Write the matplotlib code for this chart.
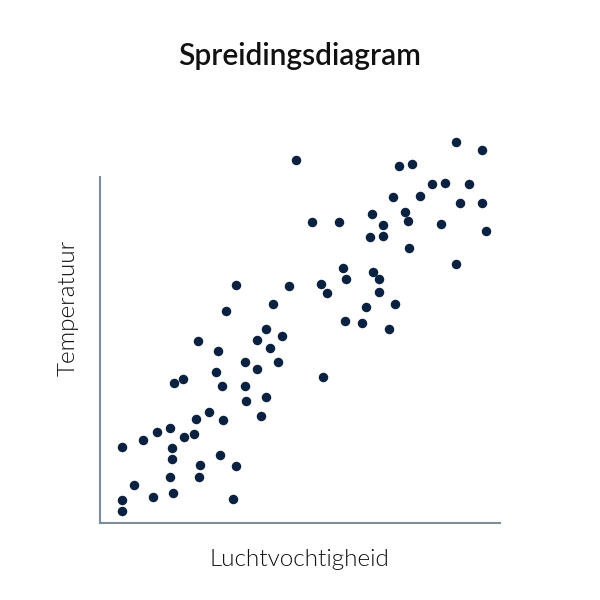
import matplotlib
matplotlib.use("Agg")
from matplotlib import pyplot as plt

# luchtvochtigheid (%) en temperatuur (schaal 0-100 op de as)
vocht = [49.0, 34.0, 47.25, 43.25, 31.5, 41.5, 89.0, 95.5, 74.75, 78.0,
         83.0, 86.25, 92.25, 73.25, 80.0, 90.0, 95.5, 68.0, 76.25, 70.75,
         77.0, 85.25, 96.5, 53.0, 59.75, 67.5, 70.75, 77.25, 89.0, 60.75,
         68.25, 61.5, 69.75, 55.25, 56.75, 69.75, 66.5, 73.75, 61.25, 65.5,
         72.25, 55.75, 39.25, 45.5, 24.5, 29.5, 42.5, 36.25, 39.25, 44.5,
         29.0, 18.5, 20.75, 30.5, 36.25, 36.5, 41.5, 40.25, 27.25, 24.0,
         30.75, 17.5, 14.25, 10.75, 21.0, 23.5, 5.5, 18.0, 18.0, 30.0,
         25.0, 34.0, 17.5, 24.75, 8.5, 13.25, 18.25, 5.5, 33.25, 5.5]
temp = [104.9, 68.8, 68.5, 63.3, 61.3, 56.1, 110.1, 107.8, 103.2, 103.8,
        98.0, 98.3, 98.0, 94.2, 94.5, 92.5, 92.5, 89.3, 89.9, 86.1,
        87.3, 86.4, 84.4, 87.0, 87.0, 82.7, 82.9, 79.5, 74.9, 73.7,
        72.5, 70.5, 70.5, 69.1, 66.5, 66.8, 62.4, 63.3, 58.4, 57.8,
        56.1, 42.2, 52.9, 54.0, 52.6, 49.7, 50.6, 46.5, 44.5, 46.5,
        43.6, 40.5, 41.6, 39.6, 39.6, 35.3, 36.4, 30.9, 32.1, 30.1,
        29.8, 27.5, 26.3, 24.0, 24.9, 25.7, 22.0, 21.7, 18.5, 19.7,
        16.8, 16.5, 13.3, 13.3, 11.0, 7.5, 8.7, 6.6, 6.9, 3.5]

plt.rcParams['font.family'] = ['Lato', 'DejaVu Sans']

fig = plt.figure(figsize=(6, 6), dpi=100)
ax = fig.add_axes([100 / 600, 77 / 600, 400 / 600, 346 / 600])
ax.scatter(vocht, temp, s=34, color='#0a2240', clip_on=False, zorder=3)
ax.set_xlim(0, 100)
ax.set_ylim(0, 100)

for side in ['top', 'right']:
    ax.spines[side].set_visible(False)
for side in ['left', 'bottom']:
    ax.spines[side].set_color('#7d8c99')
    ax.spines[side].set_linewidth(1.5)
ax.set_xticks([])
ax.set_yticks([])

fig.text(299 / 600, 1 - 560 / 600, "Luchtvochtigheid", ha='center', va='center',
         fontsize=17.5, fontweight=300, color='#111111')
fig.text(68 / 600, 1 - 308 / 600, "Temperatuur", ha='center', va='center',
         rotation=90, fontsize=17.5, fontweight=300, color='#111111')
fig.text(0.5, 1 - 56 / 600, "Spreidingsdiagram", ha='center', va='center',
         fontsize=21.5, fontweight='semibold', color='#111111')

fig.savefig('out.png', dpi=100)
